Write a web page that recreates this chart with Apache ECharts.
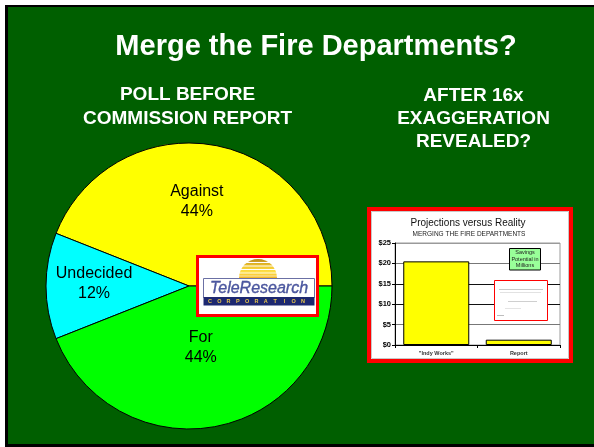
<!DOCTYPE html>
<html><head><meta charset="utf-8">
<script src="https://cdn.jsdelivr.net/npm/echarts@6/dist/echarts.min.js"></script>
<style>html,body{margin:0;padding:0;background:#fff}#c{width:594px;height:447px}</style>
</head><body><div id="c"></div>
<script>
// ---- data ----
const slideTitle = 'Merge the Fire Departments?';
const leftHeading = ['POLL BEFORE', 'COMMISSION REPORT'];
const rightHeading = ['AFTER 16x', 'EXAGGERATION', 'REVEALED?'];
const pieNames = ['Against', 'Undecided', 'For'];
const pieValues = [44, 12, 44];
const insetTitle = 'Projections versus Reality';
const insetSubtitle = 'MERGING THE FIRE DEPARTMENTS';
const barCategories = ['"Indy Works"', 'Report'];
const barValues = [20.5, 1.3];
const yMin = 0, yMax = 25, yStep = 5;
const noteLines = ['Savings', 'Potential in', 'Millions'];
const logoWord = 'TeleResearch';
const logoBand = 'CORPORATION';

// ---- styles ----
const FONT = "'Liberation Sans', Arial, sans-serif";
const pieColors = ['#ffff00', '#00ffff', '#00ff00'];
const PC = [189, 286];
const labelRadius = [85, 95, 63];
const labelAngleShift = [5.5, -1.5, 0];

const chart = echarts.init(document.getElementById('c'), null, {renderer: 'canvas'});

const bandLetters = logoBand.split('').map((ch, i) => ({
  type: 'text', z: 12, silent: true,
  style: {text: ch, x: 210 + i * 9.3, y: 301.3, align: 'center', verticalAlign: 'middle',
    fontSize: 5.5, fontWeight: 'bold', fontFamily: FONT, fill: '#e9c84a'}
}));

const graphics = [
  {type: 'rect', z: -20, silent: true, shape: {x: 5, y: 5, width: 589, height: 442}, style: {fill: '#000'}},
  {type: 'rect', z: -19, silent: true, shape: {x: 8, y: 7, width: 586, height: 437}, style: {fill: '#005f00'}},
  {type: 'rect', z: -10, silent: true, shape: {x: 369, y: 209, width: 202, height: 152}, style: {fill: '#fff', stroke: '#ff0000', lineWidth: 4}},
  {type: 'rect', z: -9, silent: true, shape: {x: 371.5, y: 211.5, width: 197, height: 147}, style: {fill: 'none', stroke: '#c8c8c8', lineWidth: 1}},
  {type: 'rect', z: 10, silent: true, shape: {x: 509.5, y: 248.5, width: 31, height: 21.5}, style: {fill: '#99ff99', stroke: '#000', lineWidth: 1}},
  {type: 'text', z: 11, silent: true, style: {text: noteLines.join('\n'), x: 525, y: 259.3, align: 'center', verticalAlign: 'middle',
    fontSize: 5.5, lineHeight: 6.5, fontFamily: FONT, fill: '#222'}},
  {type: 'rect', z: 10, silent: true, shape: {x: 494.5, y: 280.5, width: 53, height: 40}, style: {fill: '#fff', stroke: '#ff0000', lineWidth: 1}},
  {type: 'line', z: 11, silent: true, shape: {x1: 499, y1: 289.5, x2: 543, y2: 289.5}, style: {stroke: '#c9c9c9', lineWidth: 1}},
  {type: 'line', z: 11, silent: true, shape: {x1: 500, y1: 292.5, x2: 541, y2: 292.5}, style: {stroke: '#e2e2e2', lineWidth: 1}},
  {type: 'line', z: 11, silent: true, shape: {x1: 508, y1: 301.5, x2: 537, y2: 301.5}, style: {stroke: '#cfcfcf', lineWidth: 1}},
  {type: 'line', z: 11, silent: true, shape: {x1: 505, y1: 308.5, x2: 521, y2: 308.5}, style: {stroke: '#e4e4e4', lineWidth: 1}},
  {type: 'line', z: 11, silent: true, shape: {x1: 497, y1: 315.5, x2: 504, y2: 315.5}, style: {stroke: '#bdbdbd', lineWidth: 1}},
  {type: 'rect', z: 10, silent: true, shape: {x: 197.5, y: 256.5, width: 120, height: 59}, style: {fill: '#fff', stroke: '#ff0000', lineWidth: 3}},
  {type: 'sector', z: 11, silent: true, shape: {cx: 258, cy: 278, r: 19, r0: 0, startAngle: Math.PI, endAngle: 2 * Math.PI},
    style: {fill: {type: 'linear', x: 0, y: 0, x2: 0, y2: 1, colorStops: [
      {offset: 0, color: '#b98a1c'}, {offset: 0.35, color: '#eec22a'}, {offset: 0.7, color: '#ffe24a'}, {offset: 1, color: '#f2b424'}]}}},
  {type: 'line', z: 12, silent: true, shape: {x1: 238, y1: 262.5, x2: 278, y2: 262.5}, style: {stroke: '#fff', lineWidth: 1}},
  {type: 'line', z: 12, silent: true, shape: {x1: 238, y1: 266, x2: 278, y2: 266}, style: {stroke: '#fff', lineWidth: 1}},
  {type: 'line', z: 12, silent: true, shape: {x1: 238, y1: 269.5, x2: 278, y2: 269.5}, style: {stroke: '#fff', lineWidth: 1}},
  {type: 'line', z: 12, silent: true, shape: {x1: 238, y1: 273, x2: 278, y2: 273}, style: {stroke: '#fff', lineWidth: 0.8}},
  {type: 'line', z: 12, silent: true, shape: {x1: 238, y1: 276, x2: 278, y2: 276}, style: {stroke: '#fff', lineWidth: 0.6}},
  {type: 'rect', z: 11, silent: true, shape: {x: 203.5, y: 278.5, width: 111, height: 19}, style: {fill: '#fff', stroke: '#6b70a4', lineWidth: 1}},
  {type: 'text', z: 12, silent: true, style: {text: logoWord, x: 259, y: 289, align: 'center', verticalAlign: 'middle',
    fontSize: 16, fontStyle: 'italic', fontFamily: FONT, fill: '#4a56a0', stroke: '#26307a', lineWidth: 0.3}},
  {type: 'rect', z: 11, silent: true, shape: {x: 203.5, y: 297, width: 111, height: 8.5}, style: {fill: '#1d2870'}}
].concat(bandLetters);

const option = {
  animation: false,
  backgroundColor: '#ffffff',
  textStyle: {fontFamily: FONT},
  title: [
    {text: slideTitle, left: 316, top: 32.5, textAlign: 'center', padding: 0,
      textStyle: {color: '#fff', fontSize: 29, fontWeight: 'bold', fontFamily: FONT, lineHeight: 29,
        textShadowColor: '#000', textShadowOffsetX: 2, textShadowOffsetY: 2, textShadowBlur: 0}},
    {text: leftHeading.join('\n'), left: 187.5, top: 82.5, textAlign: 'center', padding: 0,
      textStyle: {color: '#fff', fontSize: 19, fontWeight: 'bold', fontFamily: FONT, lineHeight: 24.5,
        textShadowColor: '#000', textShadowOffsetX: 1, textShadowOffsetY: 1, textShadowBlur: 0}},
    {text: rightHeading.join('\n'), left: 473.5, top: 84, textAlign: 'center', padding: 0,
      textStyle: {color: '#fff', fontSize: 19, fontWeight: 'bold', fontFamily: FONT, lineHeight: 23.3,
        textShadowColor: '#000', textShadowOffsetX: 1, textShadowOffsetY: 1, textShadowBlur: 0}},
    {text: insetTitle, left: 468, top: 218, textAlign: 'center', padding: 0,
      textStyle: {color: '#111', fontSize: 10, fontWeight: 'normal', fontFamily: FONT, lineHeight: 10}},
    {text: insetSubtitle, left: 469, top: 230.8, textAlign: 'center', padding: 0,
      textStyle: {color: '#222', fontSize: 6.5, fontWeight: 'normal', fontFamily: FONT, lineHeight: 6.5}}
  ],
  grid: {left: 395, right: 34, top: 243, bottom: 102, show: true, borderColor: '#9a9a9a', borderWidth: 1,
    backgroundColor: 'transparent', containLabel: false},
  xAxis: {type: 'category', data: barCategories,
    axisLine: {show: true, lineStyle: {color: '#000', width: 1}},
    axisTick: {show: true, alignWithLabel: false, length: 3, lineStyle: {color: '#000'}},
    axisLabel: {interval: 0, fontSize: 5.5, fontWeight: 'bold', color: '#333', margin: 5, fontFamily: FONT},
    splitLine: {show: false}},
  yAxis: {type: 'value', min: yMin, max: yMax, interval: yStep,
    axisLine: {show: true, lineStyle: {color: '#000', width: 1}},
    axisTick: {show: true, length: 3, lineStyle: {color: '#000'}},
    axisLabel: {formatter: v => '$' + v, fontSize: 7.5, fontWeight: 'bold', color: '#000', margin: 4, fontFamily: FONT},
    splitLine: {show: true, lineStyle: {color: ['#000', '#777', '#111', '#111', '#777', '#9a9a9a'], width: 1}}},
  graphic: {elements: graphics},
  series: [
    {type: 'pie', center: PC, radius: 143, startAngle: 0, clockwise: false, silent: true,
      data: pieNames.map((n, i) => ({name: n, value: pieValues[i], itemStyle: {color: pieColors[i]}})),
      itemStyle: {borderColor: '#000', borderWidth: 1},
      label: {show: true, position: 'inside', formatter: p => p.name + '\n' + p.value + '%',
        fontSize: 16, lineHeight: 20, color: '#000', fontFamily: FONT},
      labelLine: {show: false},
      emphasis: {disabled: true},
      labelLayout: function (p) {
        const r = p.labelRect;
        const cx = r.x + r.width / 2, cy = r.y + r.height / 2;
        const ang = Math.atan2(-(cy - PC[1]), cx - PC[0]) + labelAngleShift[p.dataIndex] * Math.PI / 180;
        const rad = labelRadius[p.dataIndex];
        const nx = PC[0] + rad * Math.cos(ang), ny = PC[1] - rad * Math.sin(ang);
        return {dx: nx - cx, dy: ny - cy};
      }
    },
    {type: 'bar', data: barValues, barWidth: '80%', silent: true,
      itemStyle: {color: '#ffff00', borderColor: '#000', borderWidth: 1}}
  ]
};
chart.setOption(option);
</script>
</body></html>
